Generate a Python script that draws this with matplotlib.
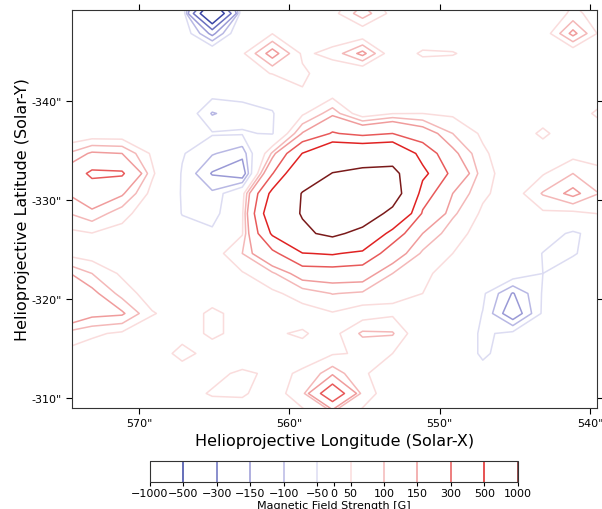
import matplotlib
matplotlib.use('Agg')
import matplotlib.pyplot as plt
import numpy as np

x_arcsec = 575.13 - 2.0 * np.arange(19)
y_arcsec = -350.86 + 2.02 * np.arange(22)

levels = [-1000, -500, -300, -150, -100, -50, 50, 100, 150, 300, 500, 1000]
cbar_ticks = [-1000, -500, -300, -150, -100, -50, 0, 50, 100, 150, 300, 500, 1000]
x_ticks = [570, 560, 550, 540]
y_ticks = [-340, -330, -320, -310]

bz = np.array([
    [0, 0, 0, 0, -30, -300, -30, 0, 0, 30, 60, 30, 0, 0, 0, 0, 10, 40, 20],
    [0, 0, 0, 0, 25, -850, 25, 20, 20, 30, 130, 30, 0, 0, 0, 0, 10, 60, 30],
    [0, 0, 0, 0, 0, -170, 25, 48, 30, 20, 5, 5, 0, 0, 0, 0, 10, 170, 20],
    [0, 0, 0, 0, 0, 20, 40, 180, 40, 65, 170, 5, 60, 55, 17, 0, 0, 0, 0],
    [0, 0, 0, 0, 0, 0, 30, 52, 60, 18, -20, 10, 0, 0, 0, 0, 0, 0, 0],
    [0, 0, 0, 0, 0, -30, -35, -20, 45, 25, 15, 20, 20, 10, 0, 0, 0, 0, 10],
    [0, 0, 0, 0, 5, -105, -70, -55, 40, 130, 10, 48, 50, 40, 10, 0, 10, 0, 80],
    [0, 10, 10, 0, -10, -45, -45, -55, 155, 314, 250, 300, 200, 100, 40, 0, 65, 0, 10],
    [90, 160, 150, 40, -45, -95, -130, 110, 505, 750, 750, 770, 420, 170, 60, 10, 10, 30, 30],
    [170, 330, 320, 60, -55, -155, -200, 290, 757, 1010, 1100, 1130, 560, 250, 70, 20, 45, 100, 60],
    [140, 210, 160, 30, -55, -90, 20, 560, 1020, 1400, 1500, 1263, 390, 150, 60, 20, 105, 170, 90],
    [90, 133, 70, 10, -52, -80, 40, 690, 1030, 1350, 1300, 870, 280, 110, 40, 20, 40, 35, 55],
    [35, 48, 30, 0, -30, -35, 45, 530, 920, 1100, 860, 400, 150, 70, 30, 10, -20, -60, -20],
    [40, 20, 10, 0, 0, 20, 100, 250, 490, 520, 447, 200, 90, 50, 20, 0, -52, -55, -20],
    [170, 100, 40, 10, 0, 10, 45, 90, 190, 194, 192, 100, 55, 40, 0, -10, -50, -20, -10],
    [200, 170, 80, 20, 0, 20, 20, 40, 70, 102, 92, 60, 50, 30, -40, -155, -45, 0, 0],
    [250, 170, 160, 55, 20, 62, 30, 40, 30, 46, 20, 40, 45, 10, -52, -200, -40, 0, 0],
    [90, 60, 40, 10, 20, 62, 30, 45, 55, 30, 110, 105, -5, 0, -60, -35, -10, 0, 0],
    [40, 20, 10, 0, 75, 20, 10, 30, 35, 45, 55, 50, 30, 0, -60, -20, 0, 0, 0],
    [30, 0, 0, 0, 10, 35, 60, 40, 55, 130, 55, 30, 10, 0, -30, 0, 0, 0, 0],
    [0, 0, 0, 0, 30, 55, 55, 30, 75, 450, 75, 20, 0, 0, 0, 0, 0, 0, 0],
    [0, 0, 0, 0, 0, 20, 30, 10, 40, 80, 40, 0, 0, 0, 0, 0, 0, 0, 0],
])

# one colour per level, muted blue -> white -> red -> maroon
level_colors = ['#1c1c60', '#3a46a6', '#6a70c0', '#9a9ad6', '#b8b8e4', '#dcdcf2',
                '#fadcdc', '#f4b8b8', '#f09c9c', '#e85a5a', '#e02222', '#7a1a1a']

fig = plt.figure(figsize=(6.02, 5.10), dpi=100)
ax = fig.add_axes([0.1196, 0.198, 0.8721, 0.7804])

cs = ax.contour(x_arcsec, y_arcsec, bz, levels=levels, colors=level_colors, linewidths=1.1)

ax.set_xlim(574.46, 539.53)
ax.set_ylim(-308.99, -349.19)
ax.set_xticks(x_ticks)
ax.set_xticklabels([f'{v}"' for v in x_ticks])
ax.set_yticks(y_ticks)
ax.set_yticklabels([f'{v}"' for v in y_ticks])
ax.tick_params(direction='out', top=True, right=True, length=4, labelsize=8)
for s in ax.spines.values():
    s.set_color('#333333')
ax.set_xlabel('Helioprojective Longitude (Solar-X)', fontsize=11.5, labelpad=3)
ax.set_ylabel('Helioprojective Latitude (Solar-Y)', fontsize=11.5, labelpad=1)

cax = fig.add_axes([0.249, 0.0529, 0.611, 0.0412])
cb = fig.colorbar(cs, cax=cax, orientation='horizontal', ticks=cbar_ticks)
cb.set_label('Magnetic Field Strength [G]', fontsize=8, labelpad=1)
cb.ax.tick_params(labelsize=8, length=3, pad=1.5)
cb.outline.set_edgecolor('#333333')

fig.savefig('out.png', dpi=100)
